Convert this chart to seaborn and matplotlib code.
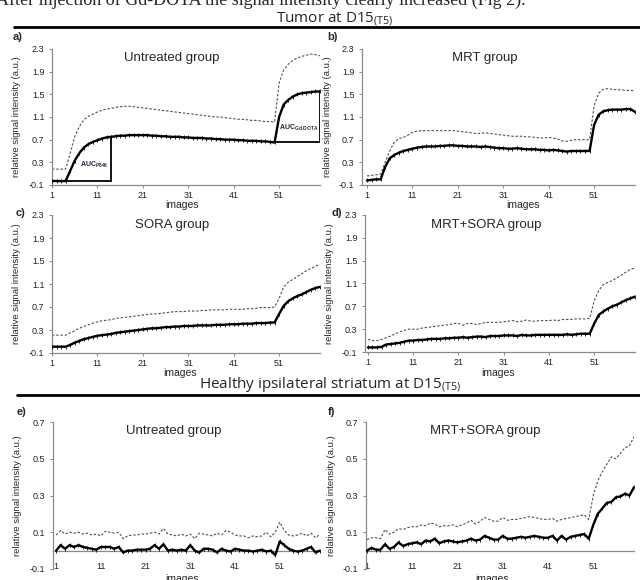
import matplotlib
matplotlib.use("Agg")
import matplotlib.pyplot as plt
from matplotlib.lines import Line2D
import pandas as pd
import seaborn as sns

# ---------------- data ----------------
images = list(range(1, 61))
xtick_labels = [1, 11, 21, 31, 41, 51]
tumor_yticks = [-0.1, 0.3, 0.7, 1.1, 1.5, 1.9, 2.3]
healthy_yticks = [-0.1, 0.1, 0.3, 0.5, 0.7]

a_mean = [-0.03, -0.03, -0.03, -0.03, 0.15, 0.33, 0.46, 0.56, 0.62, 0.66,
          0.69, 0.72, 0.74, 0.75, 0.76, 0.77, 0.77, 0.78, 0.78, 0.78,
          0.78, 0.78, 0.77, 0.77, 0.76, 0.76, 0.75, 0.75, 0.75, 0.74,
          0.74, 0.73, 0.73, 0.73, 0.72, 0.72, 0.71, 0.71, 0.70, 0.70,
          0.70, 0.69, 0.69, 0.68, 0.68, 0.68, 0.67, 0.67, 0.66, 0.65,
          1.10, 1.32, 1.40, 1.46, 1.50, 1.52, 1.53, 1.54, 1.55, 1.55]
a_upper = [0.18, 0.18, 0.18, 0.18, 0.46, 0.75, 0.93, 1.05, 1.11, 1.15,
           1.19, 1.22, 1.24, 1.25, 1.27, 1.28, 1.29, 1.29, 1.28, 1.27,
           1.26, 1.25, 1.24, 1.23, 1.22, 1.21, 1.20, 1.19, 1.18, 1.17,
           1.16, 1.15, 1.14, 1.13, 1.12, 1.11, 1.10, 1.10, 1.09, 1.08,
           1.07, 1.06, 1.06, 1.05, 1.04, 1.04, 1.03, 1.02, 1.02, 1.01,
           1.70, 1.93, 2.03, 2.10, 2.14, 2.17, 2.19, 2.21, 2.20, 2.18]

b_mean = [-0.02, -0.01, 0.0, 0.0, 0.22, 0.37, 0.43, 0.47, 0.50, 0.52,
          0.54, 0.56, 0.57, 0.58, 0.58, 0.58, 0.59, 0.59, 0.60, 0.60,
          0.59, 0.59, 0.58, 0.58, 0.58, 0.57, 0.58, 0.57, 0.56, 0.55,
          0.55, 0.54, 0.54, 0.55, 0.54, 0.53, 0.53, 0.53, 0.52, 0.52,
          0.51, 0.52, 0.51, 0.50, 0.49, 0.50, 0.50, 0.50, 0.50, 0.50,
          0.96, 1.14, 1.20, 1.22, 1.23, 1.23, 1.23, 1.24, 1.24, 1.19]
b_upper = [0.06, 0.07, 0.08, 0.09, 0.30, 0.50, 0.65, 0.72, 0.74, 0.78,
           0.83, 0.85, 0.86, 0.86, 0.86, 0.86, 0.86, 0.86, 0.86, 0.86,
           0.85, 0.84, 0.83, 0.82, 0.81, 0.81, 0.82, 0.81, 0.80, 0.79,
           0.78, 0.77, 0.76, 0.76, 0.76, 0.75, 0.75, 0.74, 0.73, 0.73,
           0.74, 0.73, 0.71, 0.68, 0.67, 0.69, 0.70, 0.70, 0.70, 0.70,
           1.30, 1.52, 1.59, 1.60, 1.59, 1.58, 1.58, 1.57, 1.57, 1.56]

c_mean = [0.01, 0.01, 0.01, 0.01, 0.04, 0.08, 0.11, 0.14, 0.16, 0.18,
          0.20, 0.21, 0.22, 0.23, 0.25, 0.26, 0.27, 0.28, 0.29, 0.30,
          0.31, 0.32, 0.33, 0.33, 0.34, 0.35, 0.35, 0.36, 0.36, 0.37,
          0.37, 0.37, 0.38, 0.38, 0.38, 0.38, 0.39, 0.39, 0.39, 0.40,
          0.40, 0.40, 0.41, 0.41, 0.41, 0.42, 0.42, 0.42, 0.43, 0.43,
          0.58, 0.72, 0.80, 0.85, 0.89, 0.92, 0.96, 1.00, 1.03, 1.05]
c_upper = [0.21, 0.21, 0.21, 0.21, 0.25, 0.29, 0.33, 0.36, 0.39, 0.42,
           0.44, 0.46, 0.47, 0.48, 0.50, 0.51, 0.52, 0.53, 0.54, 0.55,
           0.56, 0.57, 0.58, 0.58, 0.59, 0.60, 0.61, 0.62, 0.62, 0.62,
           0.63, 0.63, 0.63, 0.64, 0.64, 0.65, 0.65, 0.65, 0.65, 0.66,
           0.66, 0.66, 0.66, 0.67, 0.67, 0.68, 0.69, 0.69, 0.69, 0.70,
           0.85, 1.05, 1.13, 1.18, 1.23, 1.28, 1.33, 1.37, 1.41, 1.44]

d_mean = [-0.02, -0.02, -0.02, -0.01, 0.03, 0.04, 0.05, 0.06, 0.08, 0.10,
          0.10, 0.11, 0.11, 0.12, 0.13, 0.13, 0.13, 0.14, 0.14, 0.15,
          0.15, 0.16, 0.15, 0.16, 0.17, 0.17, 0.16, 0.18, 0.18, 0.18,
          0.19, 0.19, 0.19, 0.18, 0.20, 0.19, 0.19, 0.20, 0.20, 0.20,
          0.20, 0.20, 0.20, 0.20, 0.21, 0.20, 0.21, 0.22, 0.22, 0.22,
          0.40, 0.55, 0.61, 0.66, 0.70, 0.73, 0.77, 0.81, 0.84, 0.87]
d_upper = [0.12, 0.10, 0.10, 0.12, 0.15, 0.18, 0.22, 0.25, 0.28, 0.30,
           0.30, 0.30, 0.32, 0.33, 0.34, 0.35, 0.36, 0.37, 0.38, 0.40,
           0.40, 0.37, 0.40, 0.40, 0.38, 0.40, 0.42, 0.42, 0.42, 0.42,
           0.43, 0.44, 0.45, 0.43, 0.44, 0.46, 0.44, 0.44, 0.45, 0.45,
           0.45, 0.46, 0.45, 0.47, 0.47, 0.47, 0.48, 0.48, 0.48, 0.49,
           0.80, 0.98, 1.08, 1.12, 1.15, 1.20, 1.25, 1.30, 1.35, 1.37]

e_mean = [0.0, 0.03, 0.01, 0.03, 0.02, 0.03, 0.02, 0.015, 0.01, 0.005,
          0.02, 0.02, 0.02, 0.01, 0.02, -0.01, 0.0, 0.0, 0.005, 0.005,
          0.005, 0.01, 0.03, 0.01, 0.035, 0.0, 0.005, 0.0, 0.005, 0.0,
          0.03, 0.0, -0.01, 0.01, 0.01, 0.005, -0.01, 0.01, 0.0, -0.005,
          0.01, 0.005, 0.0, 0.0, -0.005, 0.0, 0.005, -0.005, 0.0, -0.025,
          0.05, 0.03, 0.01, 0.0, -0.005, 0.0, 0.01, 0.02, -0.01, 0.0]
e_upper = [0.085, 0.11, 0.09, 0.10, 0.095, 0.10, 0.09, 0.095, 0.085, 0.09,
           0.08, 0.105, 0.10, 0.095, 0.10, 0.065, 0.08, 0.085, 0.085, 0.09,
           0.09, 0.095, 0.10, 0.09, 0.12, 0.09, 0.085, 0.08, 0.09, 0.08,
           0.09, 0.065, 0.095, 0.09, 0.085, 0.08, 0.095, 0.085, 0.11, 0.10,
           0.085, 0.08, 0.08, 0.07, 0.08, 0.075, 0.08, 0.10, 0.075, 0.10,
           0.155, 0.11, 0.085, 0.08, 0.085, 0.095, 0.08, 0.095, 0.07, 0.09]

f_mean = [0.0, 0.015, 0.005, 0.005, 0.035, 0.01, 0.02, 0.045, 0.025, 0.035,
          0.04, 0.045, 0.035, 0.055, 0.05, 0.065, 0.04, 0.05, 0.055, 0.05,
          0.045, 0.05, 0.055, 0.065, 0.055, 0.06, 0.08, 0.07, 0.06, 0.06,
          0.08, 0.065, 0.065, 0.07, 0.075, 0.07, 0.075, 0.08, 0.075, 0.07,
          0.07, 0.08, 0.055, 0.08, 0.06, 0.075, 0.08, 0.085, 0.09, 0.065,
          0.14, 0.20, 0.23, 0.26, 0.265, 0.29, 0.295, 0.31, 0.30, 0.345]
f_upper = [0.06, 0.07, 0.07, 0.065, 0.115, 0.09, 0.10, 0.12, 0.115, 0.125,
           0.13, 0.13, 0.14, 0.135, 0.15, 0.145, 0.13, 0.135, 0.135, 0.14,
           0.13, 0.14, 0.15, 0.165, 0.145, 0.16, 0.18, 0.17, 0.16, 0.16,
           0.18, 0.165, 0.17, 0.17, 0.175, 0.18, 0.185, 0.18, 0.175, 0.17,
           0.17, 0.175, 0.16, 0.17, 0.175, 0.18, 0.185, 0.19, 0.195, 0.17,
           0.30, 0.38, 0.43, 0.47, 0.51, 0.50, 0.53, 0.56, 0.57, 0.62]

# ---------------- style ----------------
sns.set_style("white")
plt.rcParams["font.family"] = ["Liberation Sans", "DejaVu Sans"]
plt.rcParams["mathtext.fontset"] = "custom"
plt.rcParams["mathtext.rm"] = "Liberation Sans"

W, H = 640, 580
fig = plt.figure(figsize=(6.4, 5.8), dpi=100)
GRAY = "#8a8a8a"


def fx(px):
    return px / W


def fy(py):
    return 1 - py / H


def add_ax(l, r, t, b):
    return fig.add_axes([fx(l), fy(b), fx(r) - fx(l), (b - t) / H])


panels = [
    ("a)", 52, 320, 49, 185, 1.0, (-0.1, 2.3), tumor_yticks, "Untreated group", (172, 58), a_mean, a_upper, False, (13, 37), (182, 205)),
    ("b)", 362, 635, 49, 185, -0.1, (-0.1, 2.3), tumor_yticks, "MRT group", (485, 58), b_mean, b_upper, False, (327, 37), (523, 205)),
    ("c)", 52, 320, 215, 353, 1.0, (-0.1, 2.3), tumor_yticks, "SORA group", (172, 225), c_mean, c_upper, False, (16, 213), (180, 373)),
    ("d)", 365, 635, 215, 352, 0.35, (-0.1, 2.3), tumor_yticks, "MRT+SORA group", (486, 225), d_mean, d_upper, False, (332, 213), (498, 373)),
    ("e)", 53, 320, 422, 569, 0.3, (-0.1, 0.7), healthy_yticks, "Untreated group", (174, 431), e_mean, e_upper, True, (17, 412), (182, 579)),
    ("f)", 366, 634, 422, 569, 0.8, (-0.1, 0.7), healthy_yticks, "MRT+SORA group", (485, 431), f_mean, f_upper, True, (328, 412), (492, 579)),
]

axes = {}
for (lab, l, r, t, b, xmin, ylim, yticks, title, tpos, mean, upper, zero_axis, lpos, xlpos) in panels:
    ax = add_ax(l, r, t, b)
    ax.set_facecolor("none")
    df = pd.DataFrame({"image": images, "mean": mean, "upper": upper})
    sns.lineplot(data=df, x="image", y="upper", ax=ax, color="#505050", lw=0.8,
                 linestyle=(0, (2.2, 1.6)), zorder=2)
    sns.lineplot(data=df, x="image", y="mean", ax=ax, color="black", lw=1.7,
                 marker="|", markersize=2.6, markeredgewidth=0.6,
                 markeredgecolor="black", markerfacecolor="black", zorder=3)
    ax.set_xlim(xmin, 60)
    ax.set_ylim(*ylim)
    ax.set_yticks(yticks)
    ax.set_yticklabels([f"{v:.1f}" for v in yticks])
    ax.set_xticks(xtick_labels)
    ax.set_xticklabels([str(v) for v in xtick_labels])
    ax.set_xlabel("")
    ax.set_ylabel("")
    for s in ("top", "right"):
        ax.spines[s].set_visible(False)
    for s in ("left", "bottom"):
        ax.spines[s].set_color(GRAY)
        ax.spines[s].set_linewidth(0.9)
    ax.tick_params(axis="y", direction="out", length=2.5, width=0.7, color=GRAY,
                   labelsize=6.5, pad=3, labelcolor="#222222", left=True)
    if zero_axis:
        ax.spines["bottom"].set_position(("data", 0))
        ax.tick_params(axis="x", length=0, labelsize=6.5, pad=8.5, labelcolor="#222222", bottom=True)
    else:
        ax.tick_params(axis="x", direction="out", length=2, width=0.7, color=GRAY,
                       labelsize=6.5, pad=2.5, labelcolor="#222222", bottom=True)
    ax.grid(False)
    fig.text(fx(tpos[0]), fy(tpos[1]), title, fontsize=9.5, ha="center", va="center")
    fig.text(fx(lpos[0]), fy(lpos[1]), lab, fontsize=8, fontweight="bold", ha="left", va="center")
    fig.text(fx(l - 35), fy((t + b) / 2), "relative signal intensity (a.u.)", rotation=90,
             fontsize=6.8, ha="center", va="center")
    fig.text(fx(xlpos[0]), fy(xlpos[1]), "images", fontsize=7.5, ha="center", va="center")
    axes[lab] = ax

# AUC boxes in panel a (built from the data)
ax = axes["a)"]
base1 = a_mean[3]
ax.plot([4, 14], [base1, base1], color="black", lw=1.3, zorder=4)
ax.plot([14, 14], [base1, a_mean[13]], color="black", lw=1.3, zorder=4)
base2 = a_mean[49]
ax.plot([50, 60], [base2, base2], color="black", lw=1.3, zorder=4)
ax.plot([60, 60], [base2, a_mean[59]], color="black", lw=1.3, zorder=4)
ax.text(7.2, 0.22, r"AUC$_{\mathregular{P846}}$", fontsize=5, fontweight="bold", color="#1a2a44")
ax.text(50.9, 0.88, r"AUC$_{\mathregular{Gd\text{-}DOTA}}$", fontsize=5, fontweight="bold", color="#1a2a44")

# headings and rules
fig.text(fx(525), fy(5), "After injection of Gd-DOTA the signal intensity clearly increased (Fig 2).",
         family=["Liberation Serif", "DejaVu Serif"], fontsize=13, ha="right", va="baseline")
fig.text(fx(335), fy(19), r"Tumor at D15$_{\mathregular{(T5)}}$", family=["Open Sans", "DejaVu Sans"],
         fontsize=11, ha="center", va="center")
fig.text(fx(330), fy(385), r"Healthy ipsilateral striatum at D15$_{\mathregular{(T5)}}$",
         family=["Open Sans", "DejaVu Sans"], fontsize=11, ha="center", va="center")
fig.add_artist(Line2D([fx(14), fx(640)], [fy(27), fy(27)], color="black", lw=2))
fig.add_artist(Line2D([fx(17), fx(640)], [fy(395), fy(395)], color="black", lw=2))

fig.savefig("out.png", dpi=100)
